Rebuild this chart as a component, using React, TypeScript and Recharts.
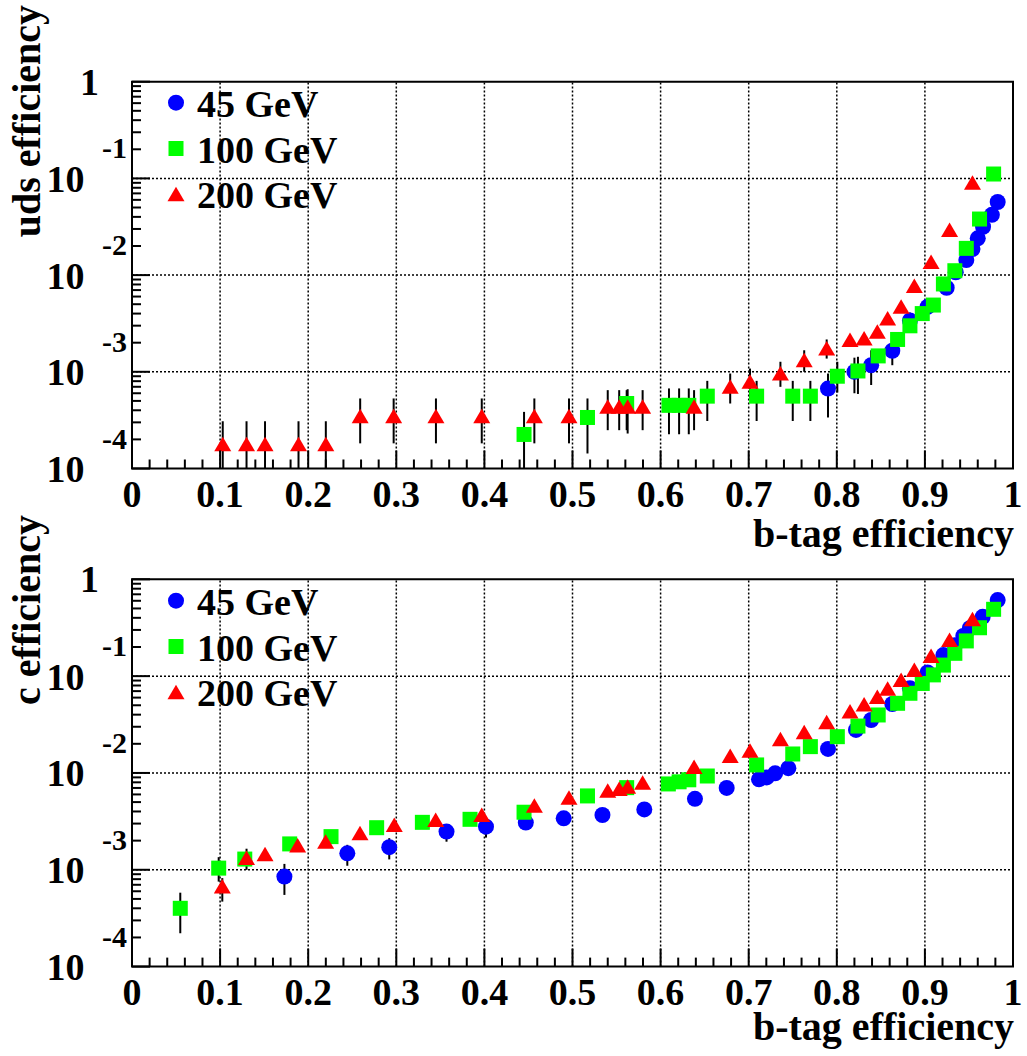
import React from 'react';
import { ScatterChart, Scatter, XAxis, YAxis, ReferenceLine, ReferenceArea, ErrorBar, Legend, Label } from 'recharts';

const FONT = '"Liberation Serif", "Times New Roman", Times, serif';

const seriesNames = ['45 GeV', '100 GeV', '200 GeV'];
const seriesColors = ['#0000ff', '#00ff00', '#ff0000'];

// x tick labels (major) and y decade labels
const xMajorTicks = [0, 0.1, 0.2, 0.3, 0.4, 0.5, 0.6, 0.7, 0.8, 0.9, 1];
const xMajorLabels = ['0', '0.1', '0.2', '0.3', '0.4', '0.5', '0.6', '0.7', '0.8', '0.9', '1'];
const xMinorStep = 0.02;
const yDecades = [1, 0.1, 0.01, 0.001, 0.0001];
const yDecadeBase = ['1', '10', '10', '10', '10'];
const yDecadeExp = ['', '-1', '-2', '-3', '-4'];
const xGrid = [0.1, 0.2, 0.3, 0.4, 0.5, 0.6, 0.7, 0.8, 0.9];
const yGrid = [0.1, 0.01, 0.001];

// [b-tag efficiency, efficiency, lower error bound, upper error bound]
const uds45: number[][] = [
  [0.790, 6.7e-4, 3.37e-4, 9.6e-4], [0.820, 1.0e-3, 6.0e-4, 1.4e-3], [0.839, 1.17e-3, 7.3e-4, 1.67e-3],
  [0.863, 1.65e-3, 1.17e-3, 2.1e-3], [0.883, 3.4e-3, 2.8e-3, 4.1e-3], [0.903, 4.7e-3], [0.9247, 7.4e-3],
  [0.935, 1.07e-2], [0.947, 1.43e-2], [0.954, 1.86e-2], [0.960, 2.4e-2], [0.966, 3.16e-2],
  [0.976, 4.2e-2], [0.9826, 5.7e-2],
];
const uds100: number[][] = [
  [0.445, 2.25e-4, 1.0e-4, 3.85e-4], [0.517, 3.37e-4, 1.43e-4, 5.3e-4], [0.5615, 4.7e-4, 2.49e-4, 6.46e-4],
  [0.6095, 4.5e-4, 2.26e-4, 6.73e-4], [0.621, 4.5e-4, 2.26e-4, 6.73e-4], [0.632, 4.5e-4, 2.26e-4, 6.73e-4],
  [0.653, 5.6e-4, 3.1e-4, 8.06e-4], [0.709, 5.6e-4, 3.1e-4, 8.06e-4], [0.750, 5.6e-4, 3.1e-4, 8.06e-4],
  [0.770, 5.6e-4, 3.1e-4, 8.06e-4], [0.8006, 9.0e-4, 6.1e-4, 1.27e-3], [0.824, 1.02e-3, 5.9e-4, 1.43e-3],
  [0.847, 1.46e-3], [0.869, 2.16e-3], [0.883, 2.99e-3], [0.897, 4.0e-3], [0.9096, 4.9e-3],
  [0.921, 8.1e-3], [0.934, 1.11e-2], [0.947, 1.89e-2], [0.962, 3.8e-2], [0.978, 0.111],
];
const uds200: number[][] = [
  [0.103, 1.78e-4, 1.0e-4, 3.08e-4], [0.130, 1.78e-4, 1.0e-4, 3.08e-4], [0.151, 1.78e-4, 1.0e-4, 3.08e-4],
  [0.189, 1.78e-4, 1.0e-4, 3.08e-4], [0.220, 1.78e-4, 1.0e-4, 3.08e-4],
  [0.259, 3.47e-4, 1.82e-4, 5.3e-4], [0.297, 3.47e-4, 1.82e-4, 5.3e-4], [0.345, 3.47e-4, 1.82e-4, 5.3e-4],
  [0.397, 3.47e-4, 1.82e-4, 5.3e-4], [0.4567, 3.47e-4, 1.82e-4, 5.3e-4], [0.496, 3.47e-4, 1.82e-4, 5.3e-4],
  [0.540, 4.34e-4, 2.49e-4, 6.46e-4], [0.553, 4.34e-4, 2.49e-4, 6.46e-4], [0.5626, 4.34e-4, 2.3e-4, 6.6e-4],
  [0.5796, 4.34e-4, 2.49e-4, 6.46e-4], [0.638, 4.34e-4, 2.49e-4, 6.46e-4],
  [0.679, 7.0e-4, 4.7e-4, 9.6e-4], [0.7015, 7.87e-4, 5.3e-4, 1.08e-3], [0.736, 9.6e-4, 6.99e-4, 1.27e-3],
  [0.763, 1.32e-3, 1.0e-3, 1.67e-3], [0.7885, 1.74e-3, 1.37e-3, 2.16e-3], [0.815, 2.13e-3],
  [0.831, 2.21e-3], [0.846, 2.59e-3], [0.8577, 3.56e-3], [0.873, 4.7e-3], [0.888, 7.7e-3],
  [0.907, 1.37e-2], [0.928, 2.92e-2], [0.954, 9.0e-2],
];

const c45: number[][] = [
  [0.173, 8.5e-4, 5.5e-4, 1.15e-3], [0.2444, 1.48e-3, 1.1e-3, 1.81e-3], [0.292, 1.71e-3, 1.28e-3, 2.12e-3],
  [0.357, 2.48e-3, 1.95e-3, 2.48e-3], [0.4018, 2.79e-3, 2.15e-3, 2.79e-3], [0.447, 3.07e-3], [0.490, 3.4e-3],
  [0.534, 3.68e-3], [0.5815, 4.2e-3], [0.639, 5.4e-3], [0.675, 7.0e-3], [0.7117, 8.6e-3],
  [0.7204, 9.0e-3], [0.730, 9.9e-3], [0.745, 1.12e-2], [0.790, 1.77e-2], [0.8218, 2.78e-2],
  [0.839, 3.52e-2], [0.863, 5.15e-2], [0.883, 7.5e-2], [0.903, 0.109], [0.921, 0.165],
  [0.934, 0.209], [0.9436, 0.26], [0.951, 0.312], [0.9656, 0.41], [0.9826, 0.61],
];
const c100: number[][] = [
  [0.0548, 4.0e-4, 2.21e-4, 5.8e-4], [0.0984, 1.04e-3, 7.55e-4, 1.35e-3], [0.128, 1.29e-3],
  [0.179, 1.85e-3], [0.2259, 2.2e-3], [0.2777, 2.72e-3], [0.3296, 3.09e-3], [0.3837, 3.32e-3],
  [0.445, 3.93e-3], [0.517, 5.79e-3], [0.5615, 7.05e-3], [0.6088, 7.7e-3], [0.621, 8.1e-3],
  [0.632, 8.5e-3], [0.653, 9.3e-3], [0.709, 1.21e-2], [0.750, 1.57e-2], [0.770, 1.87e-2],
  [0.8006, 2.37e-2], [0.824, 3.05e-2], [0.847, 3.97e-2], [0.869, 5.24e-2], [0.883, 6.65e-2],
  [0.897, 8.4e-2], [0.9096, 0.103], [0.921, 0.130], [0.934, 0.172], [0.947, 0.231],
  [0.962, 0.316], [0.978, 0.49],
];
const c200: number[][] = [
  [0.1025, 6.7e-4, 4.69e-4, 8.2e-4], [0.130, 1.32e-3, 1.0e-3, 1.65e-3], [0.151, 1.45e-3, 1.3e-3, 1.6e-3],
  [0.188, 1.78e-3, 1.6e-3, 1.9e-3], [0.2198, 1.95e-3], [0.2588, 2.38e-3], [0.2977, 2.9e-3],
  [0.3447, 3.27e-3], [0.397, 3.68e-3], [0.4567, 4.59e-3], [0.496, 5.56e-3], [0.540, 6.56e-3],
  [0.553, 6.84e-3], [0.5626, 7.22e-3], [0.5796, 7.94e-3], [0.638, 1.15e-2], [0.679, 1.5e-2],
  [0.7015, 1.7e-2], [0.736, 2.23e-2], [0.763, 2.63e-2], [0.7885, 3.34e-2], [0.815, 4.3e-2],
  [0.831, 5.1e-2], [0.846, 6.1e-2], [0.8577, 7.4e-2], [0.873, 9.1e-2], [0.888, 0.116],
  [0.907, 0.161], [0.928, 0.236], [0.954, 0.386],
];

const xTicks: number[] = [];
for (let i = 0; i <= Math.round(1 / xMinorStep); i++) xTicks.push(Number((i * xMinorStep).toFixed(4)));
const yTicks: number[] = [];
for (let d = 4; d >= 1; d--) for (let k = 1; k <= 9; k++) yTicks.push(Number((k * Math.pow(10, -d)).toPrecision(6)));
yTicks.push(1);

function toRows(pts: number[][]) {
  return pts.map((p) => {
    const [x, y, lo, hi] = p;
    return { x, y, err: [lo != null ? y - lo : 0, hi != null ? hi - y : 0] };
  });
}

function Marker({ kind, cx, cy }: { kind: number; cx: number; cy: number }) {
  if (kind === 0) return <circle cx={cx} cy={cy} r={8} fill={seriesColors[0]} />;
  if (kind === 1) return <rect x={cx - 7.5} y={cy - 7.5} width={15} height={15} fill={seriesColors[1]} />;
  return <polygon points={`${cx},${cy - 7.5} ${cx - 8.5},${cy + 7} ${cx + 8.5},${cy + 7}`} fill={seriesColors[2]} />;
}

const textStyle = { fontFamily: FONT, fontWeight: 'bold' as const, fill: '#000' };

const majorX = (v: number) => xMajorTicks.findIndex((m) => Math.abs(m - v) < 1e-6);
const majorY = (v: number) => yDecades.findIndex((d) => Math.abs(Math.log10(d) - Math.log10(v)) < 1e-6);

const XTickBottom = (p: any) => {
  const mi = majorX(p.payload.value);
  return (
    <g>
      <line x1={p.x} x2={p.x} y1={p.y} y2={p.y - (mi >= 0 ? 18 : 9)} stroke="#000" strokeWidth={2} />
      {mi >= 0 && (
        <text x={p.x} y={p.y + 38.5} textAnchor="middle" fontSize={38} {...textStyle}>{xMajorLabels[mi]}</text>
      )}
    </g>
  );
};
const XTickTop = (p: any) => {
  const mi = majorX(p.payload.value);
  return <line x1={p.x} x2={p.x} y1={p.y} y2={p.y + (mi >= 0 ? 18 : 9)} stroke="#000" strokeWidth={2} />;
};
const YTickLeft = (p: any) => {
  const di = majorY(p.payload.value);
  return (
    <g>
      <line x1={p.x} x2={p.x + (di >= 0 ? 18 : 9)} y1={p.y} y2={p.y} stroke="#000" strokeWidth={2} />
      {di >= 0 && yDecadeExp[di] === '' && (
        <text x={p.x - 33} y={p.y + 13} textAnchor="end" fontSize={38} {...textStyle}>{yDecadeBase[di]}</text>
      )}
      {di >= 0 && yDecadeExp[di] !== '' && (
        <g>
          <text x={p.x - 47.5} y={p.y + 13.5} textAnchor="end" fontSize={38} {...textStyle}>{yDecadeBase[di]}</text>
          <text x={p.x - 5} y={p.y - 20} textAnchor="end" fontSize={30} {...textStyle}>{yDecadeExp[di]}</text>
        </g>
      )}
    </g>
  );
};
const YTickRight = (p: any) => {
  const di = majorY(p.payload.value);
  return <line x1={p.x - (di >= 0 ? 18 : 9)} x2={p.x} y1={p.y} y2={p.y} stroke="#000" strokeWidth={2} />;
};

const LegendBox = (props: any) => {
  const payload = [...(props.payload || [])].sort(
    (a: any, b: any) => seriesNames.indexOf(a.value) - seriesNames.indexOf(b.value)
  );
  return (
    <svg width={280} height={150} style={{ display: 'block', overflow: 'visible' }}>
      {payload.map((e: any, i: number) => {
        const kind = seriesNames.indexOf(e.value);
        const cy = 22.7 + i * 45.8;
        return (
          <g key={i}>
            <Marker kind={kind} cx={26} cy={cy} />
            <text x={47} y={cy + 14} fontSize={38} {...textStyle}>{e.value}</text>
          </g>
        );
      })}
    </svg>
  );
};

type PanelProps = {
  height: number;
  top: number;
  xAxisHeight: number;
  legendTop: number;
  yTitle: string;
  yTitleEnd: number;
  xTitleY: number;
  s45: number[][];
  s100: number[][];
  s200: number[][];
};

function Panel(props: PanelProps) {
  const { height, top, xAxisHeight, legendTop, yTitle, yTitleEnd, xTitleY, s45, s100, s200 } = props;
  const sets = [toRows(s45), toRows(s100), toRows(s200)];
  return (
    <ScatterChart width={1027} height={height} margin={{ top, right: 14, bottom: 0, left: 0 }}>
      <XAxis
        xAxisId="b" type="number" dataKey="x" domain={[0, 1]} allowDataOverflow ticks={xTicks} interval={0}
        height={xAxisHeight} axisLine={false} tickLine={false} tickSize={0} tickMargin={0} tick={<XTickBottom />}
      >
        <Label content={() => (
          <text x={1014} y={xTitleY} textAnchor="end" fontSize={40} {...textStyle}>b-tag efficiency</text>
        )} />
      </XAxis>
      <XAxis
        xAxisId="t" orientation="top" type="number" domain={[0, 1]} allowDataOverflow ticks={xTicks} interval={0}
        height={0} axisLine={false} tickLine={false} tickSize={0} tickMargin={0} tick={<XTickTop />}
      />
      <YAxis
        yAxisId="l" type="number" dataKey="y" scale="log" domain={[1e-4, 1]} allowDataOverflow ticks={yTicks} interval={0}
        width={132} axisLine={false} tickLine={false} tickSize={0} tickMargin={0} tick={<YTickLeft />}
      >
        <Label content={() => (
          <text x={40} y={yTitleEnd} transform={`rotate(-90 40 ${yTitleEnd})`} textAnchor="end" fontSize={40} {...textStyle}>
            {yTitle}
          </text>
        )} />
      </YAxis>
      <YAxis
        yAxisId="r" orientation="right" type="number" scale="log" domain={[1e-4, 1]} allowDataOverflow ticks={yTicks} interval={0}
        width={0} axisLine={false} tickLine={false} tickSize={0} tickMargin={0} tick={<YTickRight />}
      />
      {xGrid.map((v) => (
        <ReferenceLine key={'gx' + v} xAxisId="b" yAxisId="l" x={v} stroke="#000" strokeWidth={1.5} strokeDasharray="2 2" />
      ))}
      {yGrid.map((v) => (
        <ReferenceLine key={'gy' + v} xAxisId="b" yAxisId="l" y={v} stroke="#000" strokeWidth={1.5} strokeDasharray="2 2" />
      ))}
      {sets.map((rows, k) => (
        <Scatter
          key={seriesNames[k]} name={seriesNames[k]} xAxisId="b" yAxisId="l" data={rows} dataKey="y"
          fill={seriesColors[k]} isAnimationActive={false}
          shape={(p: any) => <Marker kind={k} cx={p.cx} cy={p.cy} />}
        >
          <ErrorBar dataKey="err" direction="y" width={0} stroke="#000" strokeWidth={2} isAnimationActive={false} />
        </Scatter>
      ))}
      <ReferenceArea
        xAxisId="b" yAxisId="l" x1={0} x2={1} y1={1e-4} y2={1} fill="none" fillOpacity={0}
        stroke="#000" strokeWidth={2} ifOverflow="visible"
      />
      <Legend
        layout="vertical" align="center" verticalAlign="middle" content={<LegendBox />}
        wrapperStyle={{ left: 150, top: legendTop, width: 280, height: 150 }}
      />
    </ScatterChart>
  );
}

export default function App() {
  return (
    <div style={{ position: 'absolute', left: 0, top: 0, width: 1027, height: 1056, background: '#fff', fontFamily: FONT }}>
      <div style={{ position: 'absolute', left: 0, top: 0 }}>
        <Panel height={560} top={81.7} xAxisHeight={91.5} legendTop={80} yTitle="uds efficiency" yTitleEnd={5}
          xTitleY={546.5} s45={uds45} s100={uds100} s200={uds200} />
      </div>
      <div style={{ position: 'absolute', left: 0, top: 500 }}>
        <Panel height={556} top={79.3} xAxisHeight={89.4} legendTop={78} yTitle="c efficiency" yTitleEnd={15}
          xTitleY={540} s45={c45} s100={c100} s200={c200} />
      </div>
    </div>
  );
}
